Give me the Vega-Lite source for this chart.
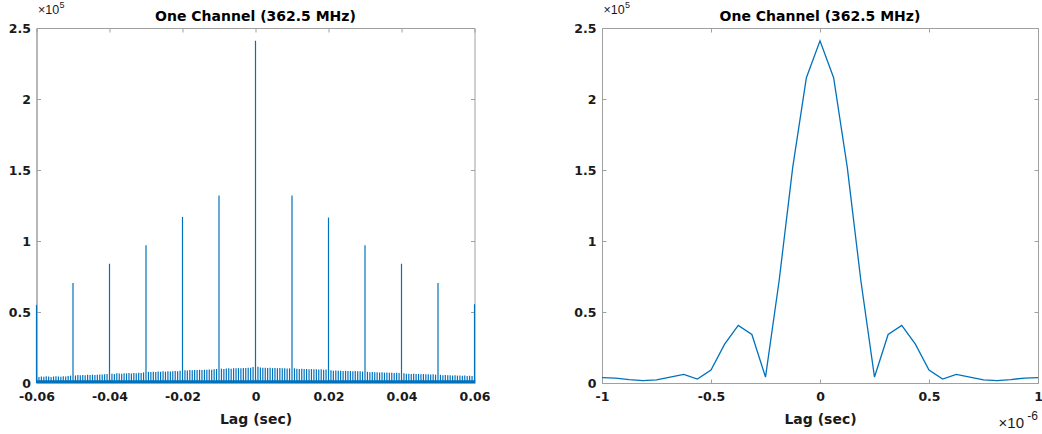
{
  "$schema": "https://vega.github.io/schema/vega-lite/v6.json",
  "background": "white",
  "padding": {"left": 7.5, "top": 0, "right": 5, "bottom": 5},
  "bounds": "flush",
  "spacing": 127.5,
  "config": {
    "font": "DejaVu Sans",
    "view": {"stroke": "#a0a0a0", "strokeWidth": 1},
    "axis": {
      "labelFont": "DejaVu Sans", "labelFontWeight": "bold", "labelFontSize": 12.5, "labelColor": "#1a1a1a",
      "titleFont": "DejaVu Sans", "titleFontWeight": "bold", "titleFontSize": 14, "titleColor": "#1a1a1a",
      "domainColor": "#a0a0a0", "tickColor": "#a0a0a0", "tickSize": -4, "grid": false,
      "labelFlush": false, "labelOverlap": false
    },
    "axisX": {"labelPadding": 11, "titlePadding": 10},
    "axisY": {"labelPadding": 10}
  },
  "datasets": {
    "band": [{"x": -0.06, "y": 2000}, {"x": 0.06, "y": 2000}],
    "spikes": [
      {"x": -0.06, "y": 55000}, {"x": -0.05, "y": 70500}, {"x": -0.04, "y": 84000}, {"x": -0.03, "y": 97000}, {"x": -0.02, "y": 117000}, {"x": -0.01, "y": 132000}, {"x": 0, "y": 241000}, {"x": 0.01, "y": 132000}, {"x": 0.02, "y": 116500}, {"x": 0.03, "y": 97000}, {"x": 0.04, "y": 84000}, {"x": 0.05, "y": 70500}, {"x": 0.06, "y": 55500},
      {"x": -0.05933, "y": 4300}, {"x": -0.05867, "y": 4600}, {"x": -0.058, "y": 4400}, {"x": -0.05733, "y": 4700}, {"x": -0.05667, "y": 4500}, {"x": -0.056, "y": 4300}, {"x": -0.05533, "y": 4600}, {"x": -0.05467, "y": 4800}, {"x": -0.054, "y": 4500}, {"x": -0.05333, "y": 4400}, {"x": -0.05267, "y": 4700}, {"x": -0.052, "y": 4600}, {"x": -0.05133, "y": 4900}, {"x": -0.05067, "y": 5200},
      {"x": -0.04933, "y": 5300}, {"x": -0.04867, "y": 5600}, {"x": -0.048, "y": 5400}, {"x": -0.04733, "y": 5700}, {"x": -0.04667, "y": 5500}, {"x": -0.046, "y": 5800}, {"x": -0.04533, "y": 5600}, {"x": -0.04467, "y": 5900}, {"x": -0.044, "y": 5700}, {"x": -0.04333, "y": 5800}, {"x": -0.04267, "y": 6000}, {"x": -0.042, "y": 5900}, {"x": -0.04133, "y": 6100}, {"x": -0.04067, "y": 6400},
      {"x": -0.03933, "y": 6600}, {"x": -0.03867, "y": 6400}, {"x": -0.038, "y": 6800}, {"x": -0.03733, "y": 6700}, {"x": -0.03667, "y": 6500}, {"x": -0.036, "y": 6900}, {"x": -0.03533, "y": 6800}, {"x": -0.03467, "y": 7000}, {"x": -0.034, "y": 6700}, {"x": -0.03333, "y": 7100}, {"x": -0.03267, "y": 6900}, {"x": -0.032, "y": 7200}, {"x": -0.03133, "y": 7000}, {"x": -0.03067, "y": 7500},
      {"x": -0.02933, "y": 7900}, {"x": -0.02867, "y": 7700}, {"x": -0.028, "y": 8000}, {"x": -0.02733, "y": 7800}, {"x": -0.02667, "y": 8100}, {"x": -0.026, "y": 7900}, {"x": -0.02533, "y": 8200}, {"x": -0.02467, "y": 8000}, {"x": -0.024, "y": 8300}, {"x": -0.02333, "y": 8100}, {"x": -0.02267, "y": 8200}, {"x": -0.022, "y": 8400}, {"x": -0.02133, "y": 8300}, {"x": -0.02067, "y": 8700},
      {"x": -0.01933, "y": 9000}, {"x": -0.01867, "y": 8800}, {"x": -0.018, "y": 9100}, {"x": -0.01733, "y": 9000}, {"x": -0.01667, "y": 9200}, {"x": -0.016, "y": 9100}, {"x": -0.01533, "y": 9300}, {"x": -0.01467, "y": 9200}, {"x": -0.014, "y": 9400}, {"x": -0.01333, "y": 9300}, {"x": -0.01267, "y": 9500}, {"x": -0.012, "y": 9400}, {"x": -0.01133, "y": 9600}, {"x": -0.01067, "y": 9900},
      {"x": -0.00933, "y": 10100}, {"x": -0.00867, "y": 9900}, {"x": -0.008, "y": 10200}, {"x": -0.00733, "y": 10300}, {"x": -0.00667, "y": 10100}, {"x": -0.006, "y": 10400}, {"x": -0.00533, "y": 10300}, {"x": -0.00467, "y": 10500}, {"x": -0.004, "y": 10400}, {"x": -0.00333, "y": 10600}, {"x": -0.00267, "y": 10500}, {"x": -0.002, "y": 10700}, {"x": -0.00133, "y": 10800}, {"x": -0.00067, "y": 11200},
      {"x": 0.00067, "y": 11400}, {"x": 0.00133, "y": 10900}, {"x": 0.002, "y": 10700}, {"x": 0.00267, "y": 10800}, {"x": 0.00333, "y": 10600}, {"x": 0.004, "y": 10700}, {"x": 0.00467, "y": 10500}, {"x": 0.00533, "y": 10600}, {"x": 0.006, "y": 10400}, {"x": 0.00667, "y": 10500}, {"x": 0.00733, "y": 10300}, {"x": 0.008, "y": 10400}, {"x": 0.00867, "y": 10200}, {"x": 0.00933, "y": 10300},
      {"x": 0.01067, "y": 10400}, {"x": 0.01133, "y": 10000}, {"x": 0.012, "y": 9900}, {"x": 0.01267, "y": 10000}, {"x": 0.01333, "y": 9800}, {"x": 0.014, "y": 9900}, {"x": 0.01467, "y": 9700}, {"x": 0.01533, "y": 9800}, {"x": 0.016, "y": 9600}, {"x": 0.01667, "y": 9700}, {"x": 0.01733, "y": 9500}, {"x": 0.018, "y": 9600}, {"x": 0.01867, "y": 9400}, {"x": 0.01933, "y": 9500},
      {"x": 0.02067, "y": 9000}, {"x": 0.02133, "y": 8700}, {"x": 0.022, "y": 8800}, {"x": 0.02267, "y": 8600}, {"x": 0.02333, "y": 8700}, {"x": 0.024, "y": 8500}, {"x": 0.02467, "y": 8600}, {"x": 0.02533, "y": 8400}, {"x": 0.026, "y": 8500}, {"x": 0.02667, "y": 8300}, {"x": 0.02733, "y": 8400}, {"x": 0.028, "y": 8200}, {"x": 0.02867, "y": 8300}, {"x": 0.02933, "y": 8100},
      {"x": 0.03067, "y": 7900}, {"x": 0.03133, "y": 7600}, {"x": 0.032, "y": 7700}, {"x": 0.03267, "y": 7500}, {"x": 0.03333, "y": 7600}, {"x": 0.034, "y": 7400}, {"x": 0.03467, "y": 7500}, {"x": 0.03533, "y": 7300}, {"x": 0.036, "y": 7400}, {"x": 0.03667, "y": 7200}, {"x": 0.03733, "y": 7300}, {"x": 0.038, "y": 7100}, {"x": 0.03867, "y": 7200}, {"x": 0.03933, "y": 7000},
      {"x": 0.04067, "y": 6800}, {"x": 0.04133, "y": 6500}, {"x": 0.042, "y": 6600}, {"x": 0.04267, "y": 6400}, {"x": 0.04333, "y": 6500}, {"x": 0.044, "y": 6300}, {"x": 0.04467, "y": 6400}, {"x": 0.04533, "y": 6200}, {"x": 0.046, "y": 6300}, {"x": 0.04667, "y": 6100}, {"x": 0.04733, "y": 6200}, {"x": 0.048, "y": 6000}, {"x": 0.04867, "y": 6100}, {"x": 0.04933, "y": 5900},
      {"x": 0.05067, "y": 5800}, {"x": 0.05133, "y": 5500}, {"x": 0.052, "y": 5600}, {"x": 0.05267, "y": 5400}, {"x": 0.05333, "y": 5500}, {"x": 0.054, "y": 5300}, {"x": 0.05467, "y": 5400}, {"x": 0.05533, "y": 5200}, {"x": 0.056, "y": 5300}, {"x": 0.05667, "y": 5100}, {"x": 0.05733, "y": 5200}, {"x": 0.058, "y": 5000}, {"x": 0.05867, "y": 5100}, {"x": 0.05933, "y": 4900}
    ],
    "zoom": [
      {"x": -1e-6, "y": 3800}, {"x": -9.375e-7, "y": 3500}, {"x": -8.75e-7, "y": 2400}, {"x": -8.125e-7, "y": 1700}, {"x": -7.5e-7, "y": 2200}, {"x": -6.875e-7, "y": 4200}, {"x": -6.25e-7, "y": 6000}, {"x": -5.625e-7, "y": 2800}, {"x": -5e-7, "y": 9200}, {"x": -4.375e-7, "y": 27400}, {"x": -3.75e-7, "y": 40600}, {"x": -3.125e-7, "y": 34200}, {"x": -2.5e-7, "y": 4200}, {"x": -1.875e-7, "y": 72000}, {"x": -1.25e-7, "y": 152000}, {"x": -6.25e-8, "y": 215000},
      {"x": 0, "y": 241000},
      {"x": 6.25e-8, "y": 215000}, {"x": 1.25e-7, "y": 152000}, {"x": 1.875e-7, "y": 72000}, {"x": 2.5e-7, "y": 4200}, {"x": 3.125e-7, "y": 34200}, {"x": 3.75e-7, "y": 40600}, {"x": 4.375e-7, "y": 27400}, {"x": 5e-7, "y": 9200}, {"x": 5.625e-7, "y": 2800}, {"x": 6.25e-7, "y": 6000}, {"x": 6.875e-7, "y": 4200}, {"x": 7.5e-7, "y": 2200}, {"x": 8.125e-7, "y": 1700}, {"x": 8.75e-7, "y": 2400}, {"x": 9.375e-7, "y": 3500}, {"x": 1e-6, "y": 3800}
    ]
  },
  "hconcat": [
    {
      "width": 438,
      "height": 355,
      "resolve": {"axis": {"x": "independent", "y": "independent"}},
      "layer": [
        {
          "data": {"name": "band"},
          "mark": {"type": "area", "color": "#0072BD"},
          "encoding": {
            "x": {"field": "x", "type": "quantitative", "scale": {"domain": [-0.06, 0.06], "nice": false, "zero": false},
              "axis": {"title": "Lag (sec)", "values": [-0.06, -0.04, -0.02, 0, 0.02, 0.04, 0.06],
                "labelExpr": "datum.value == 0 ? '0' : replace(format(datum.value, '.2f'), '\u2212', '-')"}},
            "y": {"field": "y", "type": "quantitative", "scale": {"domain": [0, 250000], "nice": false},
              "axis": {"title": null, "values": [0, 50000, 100000, 150000, 200000, 250000], "labelExpr": "'' + (datum.value / 100000)"}},
            "y2": {"datum": 0}
          }
        },
        {
          "data": {"name": "spikes"},
          "mark": {"type": "rule", "color": "#0072BD", "strokeWidth": 1.2},
          "encoding": {
            "x": {"field": "x", "type": "quantitative", "axis": null},
            "y": {"field": "y", "type": "quantitative", "axis": null},
            "y2": {"datum": 0}
          }
        },
        {
          "data": {"name": "band"},
          "mark": {"type": "point", "opacity": 0},
          "encoding": {
            "x": {"field": "x", "type": "quantitative", "axis": {"orient": "top", "title": null, "labels": false, "domain": false, "values": [-0.06, -0.04, -0.02, 0, 0.02, 0.04, 0.06]}},
            "y": {"field": "y", "type": "quantitative", "axis": {"orient": "right", "title": null, "labels": false, "domain": false, "values": [0, 50000, 100000, 150000, 200000, 250000]}}
          }
        },
        {
          "data": {"values": [{"t": "One Channel (362.5 MHz)"}]},
          "mark": {"type": "text", "align": "center", "baseline": "alphabetic", "dy": -7, "fontSize": 14, "fontWeight": "bold", "font": "DejaVu Sans", "color": "#000000"},
          "encoding": {
            "text": {"field": "t"},
            "x": {"datum": 0, "type": "quantitative", "axis": null},
            "y": {"datum": 250000, "type": "quantitative", "axis": null}
          }
        },
        {
          "data": {"values": [{"t": "×10"}]},
          "mark": {"type": "text", "align": "left", "baseline": "alphabetic", "dx": 1.5, "dy": -14, "fontSize": 12.5, "font": "Liberation Sans", "color": "#1a1a1a"},
          "encoding": {
            "text": {"field": "t"},
            "x": {"datum": -0.06, "type": "quantitative", "axis": null},
            "y": {"datum": 250000, "type": "quantitative", "axis": null}
          }
        },
        {
          "data": {"values": [{"t": "5"}]},
          "mark": {"type": "text", "align": "left", "baseline": "alphabetic", "dx": 23, "dy": -20.5, "fontSize": 9, "font": "Liberation Sans", "color": "#1a1a1a"},
          "encoding": {
            "text": {"field": "t"},
            "x": {"datum": -0.06, "type": "quantitative", "axis": null},
            "y": {"datum": 250000, "type": "quantitative", "axis": null}
          }
        }
      ]
    },
    {
      "width": 436,
      "height": 355,
      "resolve": {"axis": {"x": "independent", "y": "independent"}},
      "layer": [
        {
          "data": {"name": "zoom"},
          "mark": {"type": "line", "color": "#0072BD", "strokeWidth": 1.3},
          "encoding": {
            "x": {"field": "x", "type": "quantitative", "scale": {"domain": [-1e-6, 1e-6], "nice": false, "zero": false},
              "axis": {"title": "Lag (sec)", "values": [-1e-6, -5e-7, 0, 5e-7, 1e-6],
                "labelExpr": "replace(format(datum.value * 1000000, '~g'), '\u2212', '-')"}},
            "y": {"field": "y", "type": "quantitative", "scale": {"domain": [0, 250000], "nice": false},
              "axis": {"title": null, "values": [0, 50000, 100000, 150000, 200000, 250000], "labelExpr": "'' + (datum.value / 100000)"}}
          }
        },
        {
          "data": {"name": "zoom"},
          "mark": {"type": "point", "opacity": 0},
          "encoding": {
            "x": {"field": "x", "type": "quantitative", "axis": {"orient": "top", "title": null, "labels": false, "domain": false, "values": [-1e-6, -5e-7, 0, 5e-7, 1e-6]}},
            "y": {"field": "y", "type": "quantitative", "axis": {"orient": "right", "title": null, "labels": false, "domain": false, "values": [0, 50000, 100000, 150000, 200000, 250000]}}
          }
        },
        {
          "data": {"values": [{"t": "One Channel (362.5 MHz)"}]},
          "mark": {"type": "text", "align": "center", "baseline": "alphabetic", "dy": -7, "fontSize": 14, "fontWeight": "bold", "font": "DejaVu Sans", "color": "#000000"},
          "encoding": {
            "text": {"field": "t"},
            "x": {"datum": 0, "type": "quantitative", "axis": null},
            "y": {"datum": 250000, "type": "quantitative", "axis": null}
          }
        },
        {
          "data": {"values": [{"t": "×10"}]},
          "mark": {"type": "text", "align": "left", "baseline": "alphabetic", "dx": 1.5, "dy": -14, "fontSize": 12.5, "font": "Liberation Sans", "color": "#1a1a1a"},
          "encoding": {
            "text": {"field": "t"},
            "x": {"datum": -1e-6, "type": "quantitative", "axis": null},
            "y": {"datum": 250000, "type": "quantitative", "axis": null}
          }
        },
        {
          "data": {"values": [{"t": "5"}]},
          "mark": {"type": "text", "align": "left", "baseline": "alphabetic", "dx": 23, "dy": -20.5, "fontSize": 9, "font": "Liberation Sans", "color": "#1a1a1a"},
          "encoding": {
            "text": {"field": "t"},
            "x": {"datum": -1e-6, "type": "quantitative", "axis": null},
            "y": {"datum": 250000, "type": "quantitative", "axis": null}
          }
        },
        {
          "data": {"values": [{"t": "×10"}]},
          "mark": {"type": "text", "align": "right", "baseline": "alphabetic", "dx": -14, "dy": 44.5, "fontSize": 15, "font": "Liberation Sans", "color": "#1a1a1a"},
          "encoding": {
            "text": {"field": "t"},
            "x": {"datum": 1e-6, "type": "quantitative", "axis": null},
            "y": {"datum": 0, "type": "quantitative", "axis": null}
          }
        },
        {
          "data": {"values": [{"t": "-6"}]},
          "mark": {"type": "text", "align": "right", "baseline": "alphabetic", "dx": 0, "dy": 37, "fontSize": 12, "font": "Liberation Sans", "color": "#1a1a1a"},
          "encoding": {
            "text": {"field": "t"},
            "x": {"datum": 1e-6, "type": "quantitative", "axis": null},
            "y": {"datum": 0, "type": "quantitative", "axis": null}
          }
        }
      ]
    }
  ]
}
